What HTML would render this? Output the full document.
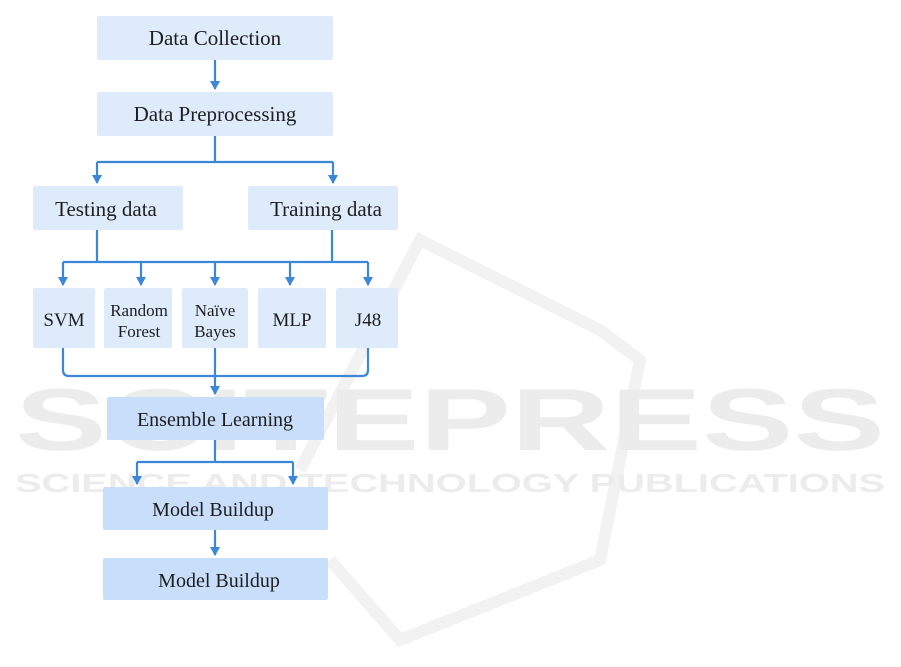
<!DOCTYPE html>
<html><head><meta charset="utf-8"><style>
html,body{margin:0;padding:0;background:#fff}
svg{display:block}
.b{fill:#deebfb}
.d{fill:#c8defa}
text{font-family:"Liberation Serif",serif;fill:#1e1e1e;text-anchor:middle}
.l{stroke:#3d87d8;stroke-width:2.2;fill:none}
.w{font-family:"Liberation Sans",sans-serif;font-weight:bold;fill:#ececec}
</style></head><body>
<svg width="901" height="667" viewBox="0 0 901 667">
<defs><marker id="a" markerWidth="10" markerHeight="10" refX="5" refY="8" orient="0" markerUnits="userSpaceOnUse"><path d="M0,0 L10,0 L5,9 z" fill="#3d87d8"/></marker></defs>
<!-- watermark -->
<path d="M300,470 L420,240 L600,330 L640,360 L600,560 L400,640 L330,560" fill="none" stroke="#f2f2f2" stroke-width="12"/>
<text class="w" x="450" y="450" font-size="88" textLength="870" lengthAdjust="spacingAndGlyphs">SCITEPRESS</text>
<text class="w" x="450" y="492" font-size="26" textLength="870" lengthAdjust="spacingAndGlyphs">SCIENCE AND TECHNOLOGY PUBLICATIONS</text>
<!-- boxes -->
<rect class="b" x="97" y="16" width="236" height="44" rx="2"/>
<rect class="b" x="97" y="92" width="236" height="44" rx="2"/>
<rect class="b" x="33" y="186" width="150" height="44" rx="2"/>
<rect class="b" x="248" y="186" width="150" height="44" rx="2"/>
<rect class="b" x="33" y="288" width="62" height="60" rx="2"/>
<rect class="b" x="104" y="288" width="68" height="60" rx="2"/>
<rect class="b" x="182" y="288" width="66" height="60" rx="2"/>
<rect class="b" x="258" y="288" width="68" height="60" rx="2"/>
<rect class="b" x="336" y="288" width="62" height="60" rx="2"/>
<rect class="d" x="107" y="397" width="217" height="43" rx="2"/>
<rect class="d" x="103" y="487" width="225" height="43" rx="2"/>
<rect class="d" x="103" y="558" width="225" height="42" rx="2"/>
<!-- text -->
<text x="215" y="45" font-size="21">Data Collection</text>
<text x="215" y="121" font-size="21">Data Preprocessing</text>
<text x="106" y="216" font-size="21">Testing data</text>
<text x="326" y="216" font-size="21">Training data</text>
<text x="64" y="326" font-size="19">SVM</text>
<text x="139" y="316" font-size="17">Random</text>
<text x="139" y="337" font-size="17">Forest</text>
<text x="215" y="316" font-size="17">Naïve</text>
<text x="215" y="337" font-size="17">Bayes</text>
<text x="292" y="326" font-size="19">MLP</text>
<text x="368" y="326" font-size="19">J48</text>
<text x="215" y="426" font-size="20">Ensemble Learning</text>
<text x="213" y="516" font-size="20">Model Buildup</text>
<text x="219" y="587" font-size="20">Model Buildup</text>
<!-- connectors -->
<path class="l" d="M215,60 V89" marker-end="url(#a)"/>
<path class="l" d="M215,136 V162 M97,162 H333"/>
<path class="l" d="M97,162 V183" marker-end="url(#a)"/>
<path class="l" d="M333,162 V183" marker-end="url(#a)"/>
<path class="l" d="M97,230 V262 M332,230 V262 M63,262 H368"/>
<path class="l" d="M63,262 V285" marker-end="url(#a)"/>
<path class="l" d="M141,262 V285" marker-end="url(#a)"/>
<path class="l" d="M215,262 V285" marker-end="url(#a)"/>
<path class="l" d="M290,262 V285" marker-end="url(#a)"/>
<path class="l" d="M368,262 V285" marker-end="url(#a)"/>
<path class="l" d="M63,348 V370 Q63,376 69,376 H362 Q368,376 368,370 V348"/>
<path class="l" d="M215,348 V394" marker-end="url(#a)"/>
<path class="l" d="M215,440 V462 M137,462 H293"/>
<path class="l" d="M137,462 V484" marker-end="url(#a)"/>
<path class="l" d="M293,462 V484" marker-end="url(#a)"/>
<path class="l" d="M215,530 V555" marker-end="url(#a)"/>
</svg>
</body></html>
